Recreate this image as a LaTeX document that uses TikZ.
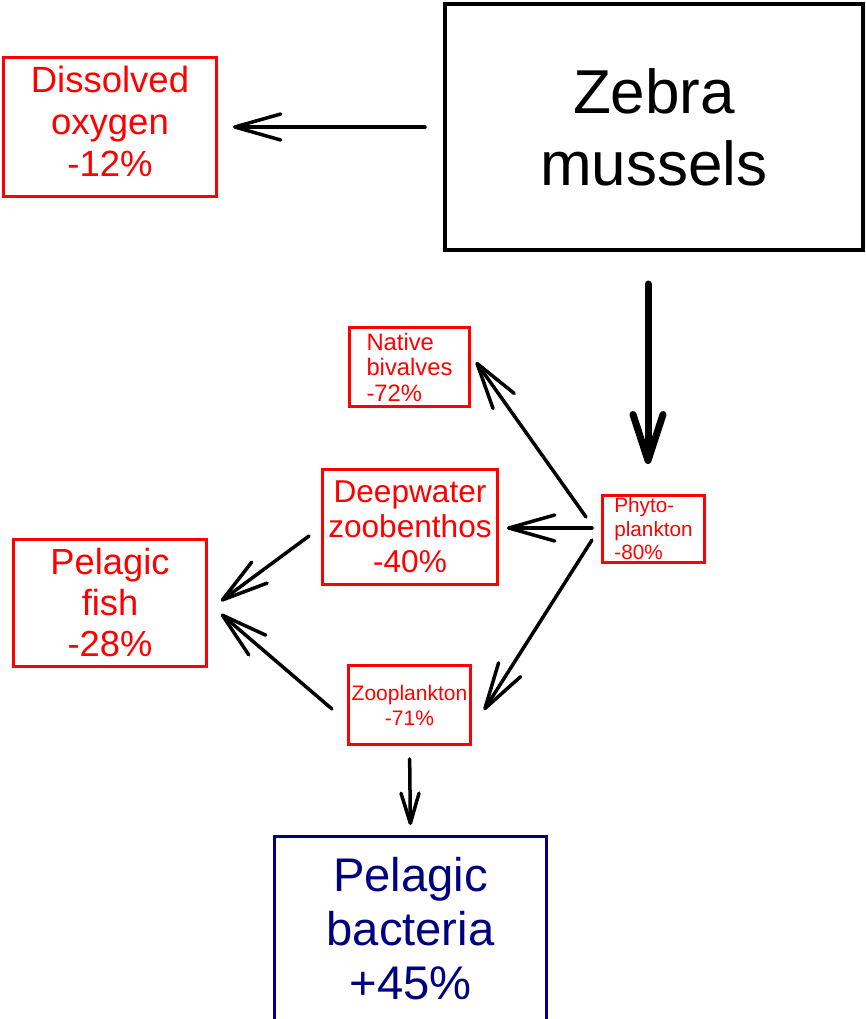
\documentclass[tikz,border=0pt]{standalone}
\usepackage{fontspec}
\setmainfont{Liberation Sans}
\usetikzlibrary{positioning,arrows.meta,calc}
\definecolor{navy}{RGB}{0,0,128}

\begin{document}
\begin{tikzpicture}[x=1pt,y=-1pt,
  box/.style={draw, inner sep=0pt, align=center, line width=3pt},
  redbox/.style={box, red, text=red},
  arr/.style={line width=3.5pt, line cap=round, -{Straight Barb[length=46pt,width=26pt,round]}}]
\useasboundingbox (0,0) rectangle (865,1019);
\node[box, line width=4pt, minimum width=418pt, minimum height=246pt, font=\fontsize{62}{72}\selectfont] (Zebra) at (654,127) {Zebra\\mussels};
\node[redbox, minimum width=213pt, minimum height=139pt, text depth=12pt, font=\fontsize{36.5}{42}\selectfont] (Oxygen) at (110,127) {Dissolved\\oxygen\\-12\%};
\node[redbox, minimum width=120pt, minimum height=79pt, align=left, font=\fontsize{23.8}{25.5}\selectfont] (Bivalves) at (409.5,367) {Native\\bivalves\\-72\%};
\node[redbox, minimum width=102pt, minimum height=67pt, align=left, font=\fontsize{20.7}{23.5}\selectfont] (Phyto) at (653.5,529) {Phyto-\\plankton\\-80\%};
\node[redbox, minimum width=175pt, minimum height=115pt, font=\fontsize{31.6}{35}\selectfont] (Benthos) at (410,527) {Deepwater\\zoobenthos\\-40\%};
\node[redbox, minimum width=193pt, minimum height=127pt, font=\fontsize{36.3}{41}\selectfont] (Fish) at (110,603) {Pelagic\\fish\\-28\%};
\node[redbox, minimum width=122pt, minimum height=79pt, font=\fontsize{21}{25}\selectfont] (Zoo) at (409.5,705) {Zooplankton\\-71\%};
\node[box, navy, minimum width=272pt, minimum height=185pt, font=\fontsize{47.2}{54}\selectfont] (Bacteria) at (410.5,929) {Pelagic\\bacteria\\+45\%};
\draw[arr, shorten <=18pt, shorten >=15pt] (Zebra.west) -- (Oxygen.east);
\draw[arr, line width=7pt, -{Straight Barb[length=46pt,width=30pt,round]}, shorten <=32pt, shorten >=30pt] ([xshift=-6pt]Zebra.south) -- ([xshift=-5.5pt]Phyto.north);
\draw[arr] ($(Phyto.west)+(-15,-12)$) -- ($(Bivalves.east)+(5,-5)$);
\draw[arr] ($(Phyto.west)+(-9,-1)$) -- ($(Benthos.east)+(8,1)$);
\draw[arr] ($(Phyto.west)+(-9,11)$) -- ($(Zoo.east)+(12,5)$);
\draw[arr] ($(Benthos.west)+(-12,9)$) -- ($(Fish.east)+(13,-2)$);
\draw[arr] ($(Zoo.west)+(-15,4)$) -- ($(Fish.east)+(13,11)$);
\draw[arr, -{Straight Barb[length=30pt,width=18pt,round]}, shorten <=13pt, shorten >=10pt] (Zoo.south) -- (Bacteria.north);
\end{tikzpicture}
\end{document}
